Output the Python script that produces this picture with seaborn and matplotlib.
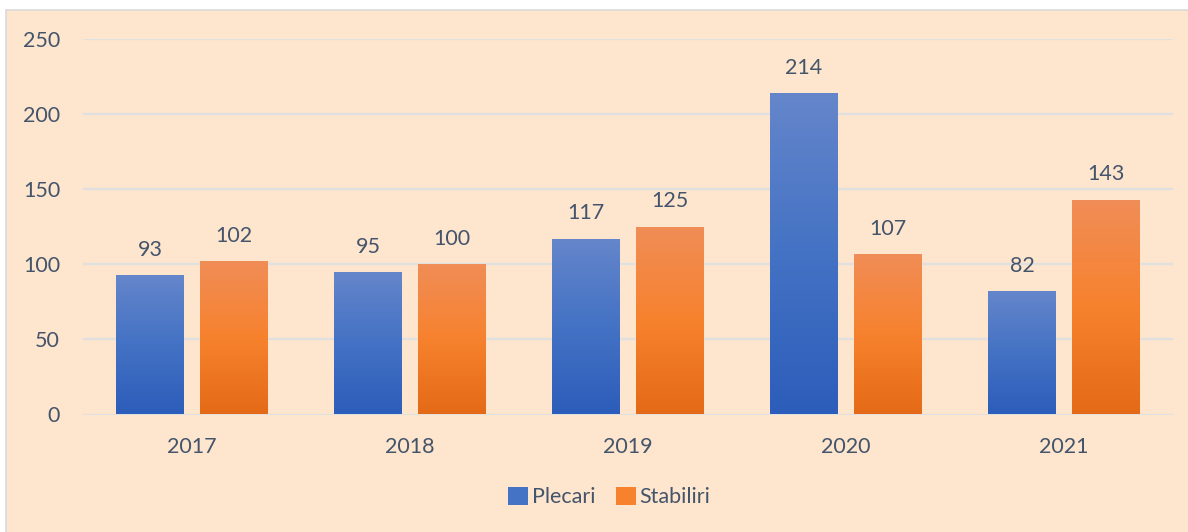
import numpy as np
import pandas as pd
import matplotlib
matplotlib.use("Agg")
import matplotlib.pyplot as plt
from matplotlib.patches import Rectangle
from matplotlib.colors import LinearSegmentedColormap
import seaborn as sns

years = ["2017", "2018", "2019", "2020", "2021"]
plecari = [93, 95, 117, 214, 82]
stabiliri = [102, 100, 125, 107, 143]
series_names = ["Plecari", "Stabiliri"]

df = pd.DataFrame({
    "An": years * 2,
    "Valoare": plecari + stabiliri,
    "Serie": [series_names[0]] * len(years) + [series_names[1]] * len(years),
})

BG = "#FDE5CE"
TEXT = "#44546A"
GRID = "#E0E0E0"
# top -> middle -> bottom colours of the bar gradients
gradients = {
    "Plecari": ["#6586CB", "#4472C4", "#2C5DBA"],
    "Stabiliri": ["#F08D57", "#F7822E", "#E46A17"],
}
mid_colors = {k: v[1] for k, v in gradients.items()}

sns.set_theme(style="white")
plt.rcParams["font.family"] = ["Lato", "DejaVu Sans"]

fig = plt.figure(figsize=(11.88, 5.32), dpi=100)
fig.patch.set_facecolor("white")
fig.patches.append(Rectangle((6 / 1188, -0.01), 1.02, (532 - 10) / 532 + 0.01,
                             transform=fig.transFigure, facecolor=BG,
                             edgecolor="#DADADA", linewidth=1.2, zorder=-5))

ax = fig.add_axes([83 / 1188, (532 - 414.5) / 532, (1173 - 83) / 1188, (414.5 - 39) / 532])
ax.set_facecolor("none")

sns.barplot(data=df, x="An", y="Valoare", hue="Serie", palette=mid_colors,
            width=0.77, gap=0.19, ax=ax, legend=False, zorder=3)

ax.set_xlim(-0.5, 4.5)
ax.set_ylim(0, 250)
ax.set_yticks(range(0, 251, 50))
ax.yaxis.grid(True, color=GRID, linewidth=1.6, zorder=0)
ax.set_axisbelow(True)
for s in ax.spines.values():
    s.set_visible(False)
ax.set_xlabel("")
ax.set_ylabel("")
ax.tick_params(axis="both", length=0, labelsize=15.5, labelcolor=TEXT)
ax.tick_params(axis="y", pad=16.5)
ax.tick_params(axis="x", pad=16)

# gradient fill for each bar
grad_img = np.linspace(0, 1, 256).reshape(-1, 1)
for container, name in zip(ax.containers, series_names):
    cmap = LinearSegmentedColormap.from_list(name, gradients[name][::-1])
    for bar in container:
        x0, y0 = bar.get_x(), bar.get_y()
        w, h = bar.get_width(), bar.get_height()
        bar.set_facecolor("none")
        bar.set_edgecolor("none")
        im = ax.imshow(grad_img, extent=[x0, x0 + w, y0, y0 + h], origin="lower",
                       aspect="auto", cmap=cmap, zorder=3)
        im.set_clip_path(Rectangle((x0, y0), w, h, transform=ax.transData))
    ax.bar_label(container, padding=11, fontsize=15.5, color=TEXT)
ax.set_xlim(-0.5, 4.5)
ax.set_ylim(0, 250)

handles = [Rectangle((0, 0), 1, 1, facecolor=mid_colors[n], edgecolor="none") for n in series_names]
fig.legend(handles, series_names, loc="center", bbox_to_anchor=(609 / 1188, (532 - 497) / 532),
           ncol=2, frameon=False, fontsize=15.5, labelcolor=TEXT,
           handlelength=0.95, handleheight=0.95, handletextpad=0.15, columnspacing=0.95)

fig.savefig("out.png", dpi=100, facecolor=fig.get_facecolor())
